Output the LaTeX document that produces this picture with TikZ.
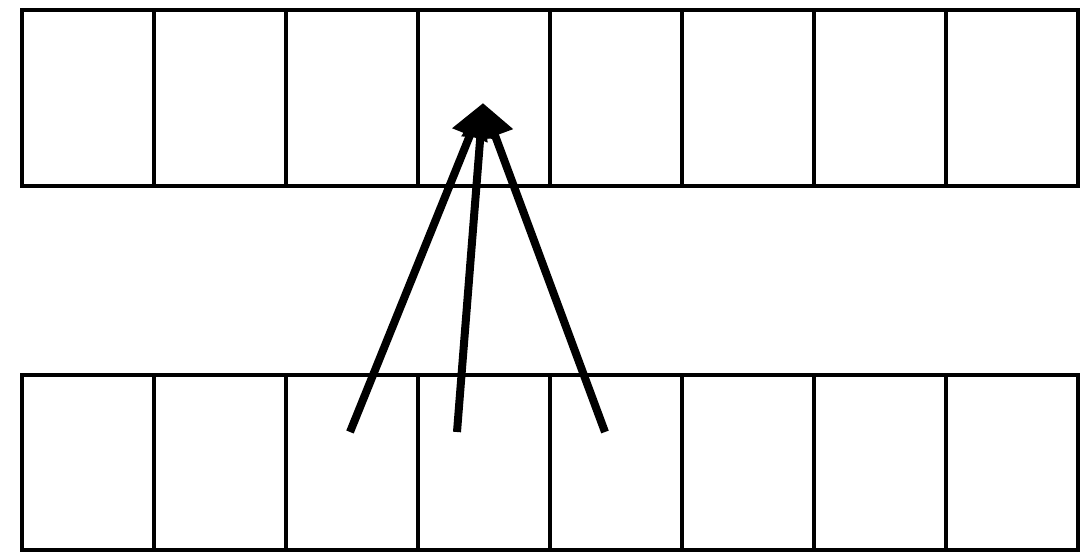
\documentclass[tikz,border=0pt]{standalone}
\usetikzlibrary{arrows.meta}

\tikzset{
	cell/.style={draw, line width=0.08cm, minimum width=2.64cm, minimum height=3.52cm, inner sep=0pt, outer sep=0pt},
	link/.style={line width=0.16cm, -{Triangle[length=0.7cm, width=0.72cm]}}
}

\begin{document}
\begin{tikzpicture}[x=0.02cm, y=-0.02cm]
	\useasboundingbox (0,0) rectangle (1090,554);
	% upper row
	\foreach \i in {1,...,8} {\node[cell] (t\i) at ({22+132*(\i-0.5)},98) {};}
	% lower row
	\foreach \i in {1,...,8} {\node[cell] (b\i) at ({22+132*(\i-0.5)},462.5) {};}
	% arrows into the fourth cell
	\coordinate (tip) at (483,103);
	\coordinate (s1) at (350,432);
	\coordinate (s2) at (457,432);
	\coordinate (s3) at (605,432);
	\foreach \s in {s1,s2,s3} {\draw[link] (\s) -- (tip);}
\end{tikzpicture}
\end{document}
